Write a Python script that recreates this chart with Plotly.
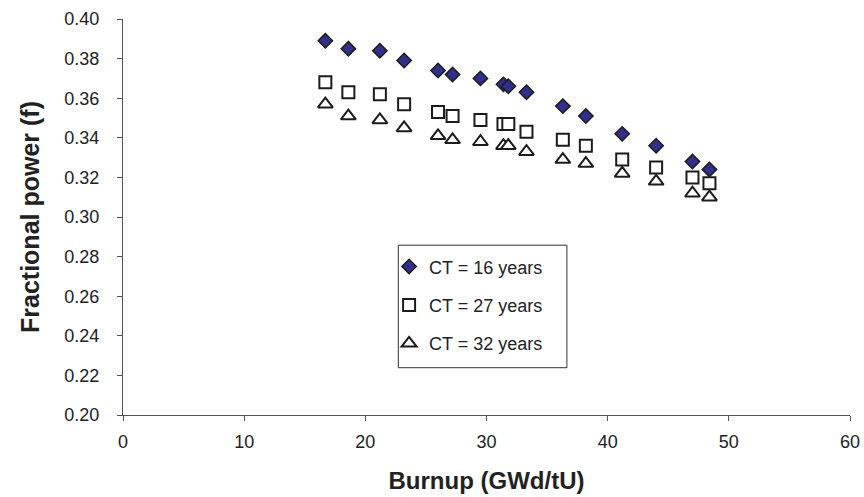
import plotly.graph_objects as go

# Burnup (GWd/tU) of each assembly
burnup = [16.7, 18.6, 21.2, 23.2, 26.0, 27.2, 29.5, 31.4, 31.8, 33.3,
          36.3, 38.2, 41.2, 44.0, 47.0, 48.4]

# Fractional power for each cooling time
f_ct16 = [0.389, 0.385, 0.384, 0.379, 0.374, 0.372, 0.370, 0.367, 0.366, 0.363,
          0.356, 0.351, 0.342, 0.336, 0.328, 0.324]
f_ct27 = [0.368, 0.363, 0.362, 0.357, 0.353, 0.351, 0.349, 0.347, 0.347, 0.343,
          0.339, 0.336, 0.329, 0.325, 0.320, 0.317]
f_ct32 = [0.357, 0.351, 0.349, 0.345, 0.341, 0.339, 0.338, 0.336, 0.336, 0.333,
          0.329, 0.327, 0.322, 0.318, 0.312, 0.310]

series_names = ["CT = 16 years", "CT = 27 years", "CT = 32 years"]

FONT = "Liberation Sans, Arial, sans-serif"
AXIS = "#555555"
TEXT = "#222222"

fig = go.Figure()
fig.add_trace(go.Scatter(
    x=burnup, y=f_ct16, mode="markers", name=series_names[0], legendgroup="a",
    marker=dict(symbol="diamond", size=11, color="#322F88",
                line=dict(color="#1c1c1c", width=1.5)),
))
fig.add_trace(go.Scatter(
    x=burnup, y=f_ct27, mode="markers", name=series_names[1], legendgroup="b",
    marker=dict(symbol="square", size=12, color="white",
                line=dict(color="#1c1c1c", width=2)),
))
fig.add_trace(go.Scatter(
    x=burnup, y=f_ct32, mode="markers", name=series_names[2], legendgroup="c",
    marker=dict(symbol="triangle-up", size=13, color="white",
                line=dict(color="#1c1c1c", width=2)),
))

# legend frame
fig.add_shape(type="rect", xref="paper", yref="paper",
              x0=0.3787, x1=0.6106, y0=0.1194, y1=0.4288,
              line=dict(color="#333333", width=1), fillcolor="rgba(0,0,0,0)")

fig.update_layout(
    width=864, height=497,
    margin=dict(l=123, r=14, t=19, b=82),
    paper_bgcolor="white", plot_bgcolor="white",
    font=dict(family=FONT, size=18, color=TEXT),
    showlegend=True,
    legend=dict(x=0.366, y=0.421, xanchor="left", yanchor="top",
                bgcolor="rgba(0,0,0,0)", borderwidth=0,
                font=dict(family=FONT, size=18, color=TEXT),
                tracegroupgap=12, itemwidth=30),
    xaxis=dict(
        range=[0, 60], dtick=10, tick0=0,
        showline=True, linecolor=AXIS, linewidth=1,
        ticks="outside", ticklen=5, tickcolor=AXIS,
        ticklabelstandoff=5,
        showgrid=False, zeroline=False,
        tickfont=dict(family=FONT, size=18, color=TEXT),
        title=dict(text="<b>Burnup (GWd/tU)</b>", standoff=21,
                   font=dict(family=FONT, size=24, color=TEXT)),
        automargin=False,
    ),
    yaxis=dict(
        range=[0.20, 0.40], dtick=0.02, tick0=0.20, tickformat=".2f",
        showline=True, linecolor=AXIS, linewidth=1,
        ticks="outside", ticklen=5, tickcolor=AXIS,
        ticklabelstandoff=14,
        showgrid=False, zeroline=False,
        tickfont=dict(family=FONT, size=18, color=TEXT),
        title=dict(text="<b>Fractional power (f)</b>", standoff=17,
                   font=dict(family=FONT, size=25, color=TEXT)),
        automargin=False,
    ),
)

fig.write_html("out.html")
